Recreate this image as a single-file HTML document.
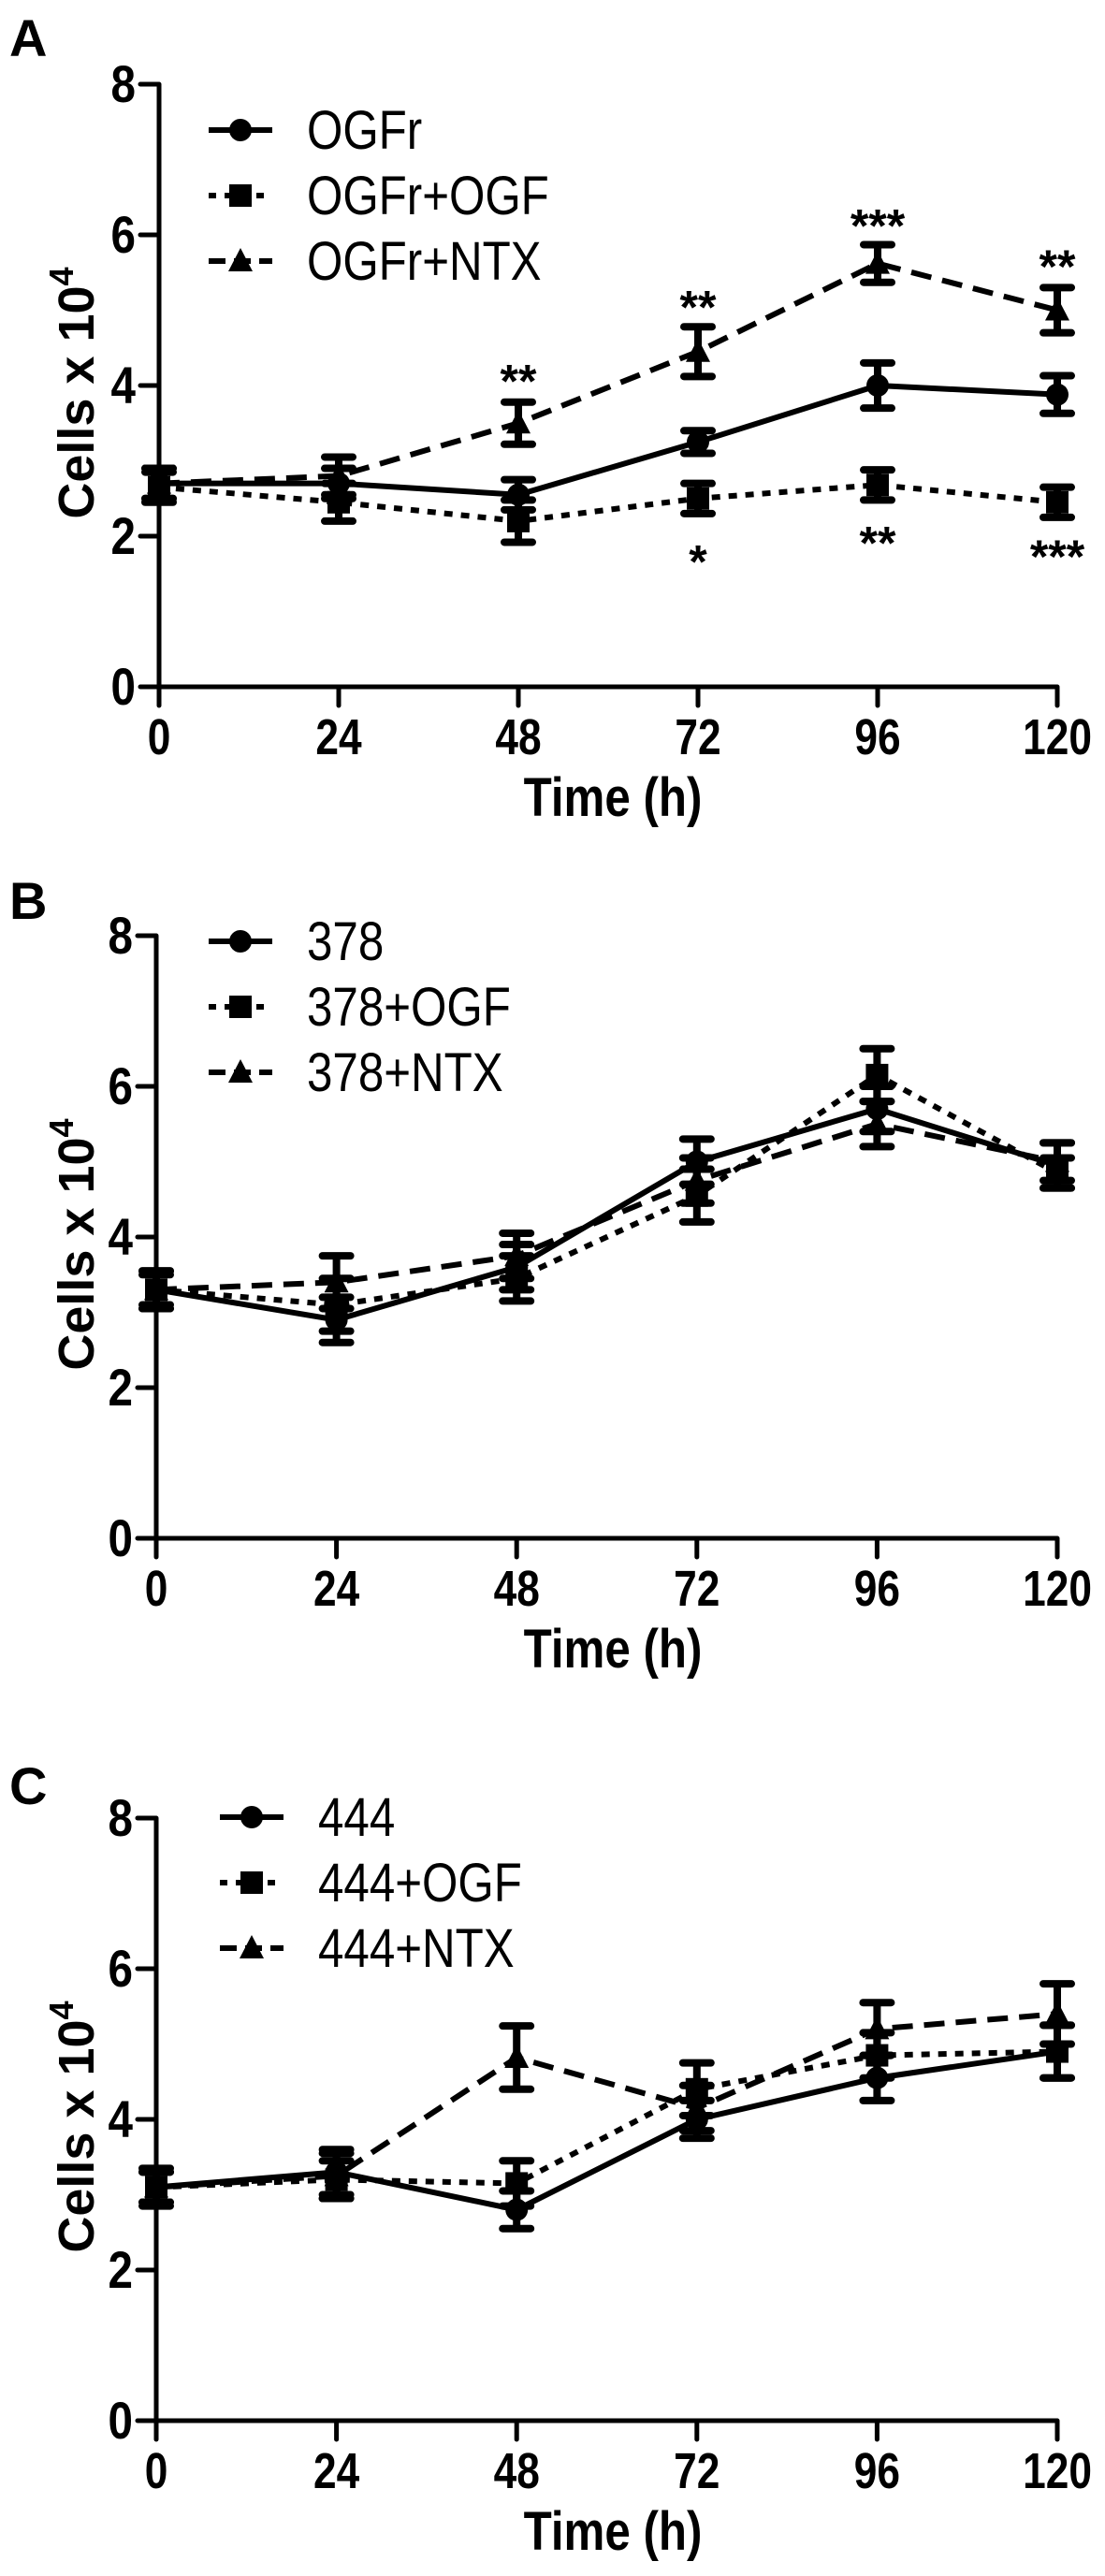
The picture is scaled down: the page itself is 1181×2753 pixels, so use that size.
<!DOCTYPE html>
<html><head><meta charset="utf-8"><title>Cell growth: OGFr, 378 and 444 cells</title>
<style>
html,body{margin:0;padding:0;background:#fff;}
svg{display:block;}
text{font-family:"Liberation Sans Narrow","Liberation Sans",Arial,sans-serif;fill:#000;}
</style></head>
<body>
<svg id="fig" width="1181" height="2753" viewBox="0 0 1181 2753" xmlns="http://www.w3.org/2000/svg"></svg>
<script>
// ---- data ----
const timeCategories = [0, 24, 48, 72, 96, 120];
const yTickLabels = [0, 2, 4, 6, 8];

// Panel A
const aNames = ["OGFr", "OGFr+OGF", "OGFr+NTX"];
const aCtrl = [2.7, 2.7, 2.55, 3.25, 4.0, 3.88];
const aCtrlErr = [0.2, 0.2, 0.2, 0.15, 0.3, 0.25];
const aOgf = [2.65, 2.45, 2.2, 2.5, 2.68, 2.45];
const aOgfErr = [0.2, 0.25, 0.28, 0.2, 0.2, 0.2];
const aNtx = [2.7, 2.8, 3.5, 4.45, 5.62, 5.0];
const aNtxErr = [0.2, 0.25, 0.28, 0.33, 0.25, 0.3];
const aStarTimes = [48, 72, 96, 120, 72, 96, 120];
const aStarValues = [4.12, 5.1, 6.18, 5.64, 1.72, 1.97, 1.79];
const aStarLabels = ["**", "**", "***", "**", "*", "**", "***"];

// Panel B
const bNames = ["378", "378+OGF", "378+NTX"];
const bCtrl = [3.3, 2.9, 3.6, 5.0, 5.7, 4.95];
const bCtrlErr = [0.25, 0.3, 0.3, 0.3, 0.3, 0.3];
const bOgf = [3.3, 3.1, 3.45, 4.55, 6.15, 4.85];
const bOgfErr = [0.25, 0.35, 0.3, 0.35, 0.35, 0.2];
const bNtx = [3.3, 3.4, 3.75, 4.75, 5.5, 5.0];
const bNtxErr = [0.2, 0.35, 0.3, 0.3, 0.3, 0.25];

// Panel C
const cNames = ["444", "444+OGF", "444+NTX"];
const cCtrl = [3.1, 3.3, 2.8, 4.0, 4.55, 4.9];
const cCtrlErr = [0.25, 0.3, 0.25, 0.25, 0.3, 0.35];
const cOgf = [3.1, 3.2, 3.15, 4.4, 4.85, 4.9];
const cOgfErr = [0.2, 0.25, 0.3, 0.35, 0.3, 0.35];
const cNtx = [3.1, 3.25, 4.82, 4.15, 5.2, 5.4];
const cNtxErr = [0.2, 0.3, 0.42, 0.3, 0.35, 0.4];

// ---- drawing ----
const NS = "http://www.w3.org/2000/svg";
const svg = document.getElementById("fig");
function mk(tag, attrs, parent) {
  const e = document.createElementNS(NS, tag);
  for (const k in attrs) e.setAttribute(k, attrs[k]);
  (parent || svg).appendChild(e);
  return e;
}
const dashes = ["none", "9 9", "22 12"];

function narrowText(parent, x, y, str, size, anchor, sx) {
  const t = mk("text", {x: 0, y: 0, "text-anchor": anchor, "font-size": size, "font-weight": "bold",
    transform: `translate(${x} ${y}) scale(${sx} 1)`}, parent);
  t.textContent = str;
  return t;
}

function drawPanel(cfg) {
  const g = mk("g", {});
  
  
  const x0 = cfg.x0, x1 = 1130, y0 = cfg.y0, unit = 80.5;
  const xs = t => x0 + (t - 0) / 120 * (x1 - x0);
  const ys = v => y0 - v * unit;

  const lab = mk("text", {x: 10, y: cfg.labelY, "font-size": 56, "font-weight": "bold", "font-family": "Liberation Sans, sans-serif"}, g);
  lab.textContent = cfg.letter;
  
  

  const ax = mk("path", {d: `M${x0} ${ys(8)} V${y0} H${x1}`, stroke: "#000", "stroke-width": 5, fill: "none"}, g);
  
  
  yTickLabels.forEach(v => {
    const tk = mk("line", {x1: x0 - 20, x2: x0, y1: ys(v), y2: ys(v), stroke: "#000", "stroke-width": 5, "stroke-linecap": "round"}, g);
    
    
    const t = narrowText(g, x0 - 25, ys(v) + 19, String(v), 56, "end", 0.85);
    
    
  });
  timeCategories.forEach(tm => {
    const tk = mk("line", {x1: xs(tm), x2: xs(tm), y1: y0, y2: y0 + 20, stroke: "#000", "stroke-width": 5, "stroke-linecap": "round"}, g);
    
    
    const t = narrowText(g, xs(tm), y0 + 72, String(tm), 54, "middle", 0.82);
    
    
  });
  const xt = narrowText(g, 655, y0 + 138, "Time (h)", 58, "middle", 0.85);
  
  
  const ytx = 100, yty = ys(3.9);
  const yt = mk("text", {x: ytx, y: yty, "text-anchor": "middle", "font-size": 54, "font-weight": "bold", "font-family": "Liberation Sans, sans-serif", transform: `rotate(-90 ${ytx} ${yty})`}, g);
  yt.innerHTML = 'Cells x 10<tspan dy="-22" font-size="36">4</tspan>';
  
  

  cfg.series.forEach((s, i) => {
    const sg = mk("g", {}, g);
    
    
    const pts = timeCategories.map((tm, k) => xs(tm) + "," + ys(s.vals[k])).join(" ");
    mk("polyline", {points: pts, fill: "none", stroke: "#000", "stroke-width": 6, "stroke-dasharray": dashes[i]}, sg);
    timeCategories.forEach((tm, k) => {
      const cx = xs(tm), cy = ys(s.vals[k]), e = s.err[k] * unit;
      mk("path", {d: `M${cx} ${cy - e} V${cy + e} M${cx - 15} ${cy - e} H${cx + 15} M${cx - 15} ${cy + e} H${cx + 15}`, stroke: "#000", "stroke-width": 8, "stroke-linecap": "round", fill: "none"}, sg);
      drawMarker(sg, i, cx, cy, 12);
    });
  });

  cfg.series.forEach((s, i) => {
    const ly = cfg.legendY + i * 70, lx = cfg.legendX;
    const lg = mk("g", {}, g);
    
    
    mk("line", {x1: lx, x2: lx + 68, y1: ly, y2: ly, stroke: "#000", "stroke-width": 6, "stroke-dasharray": i === 0 ? "none" : (i === 1 ? "8 9" : "18 9")}, lg);
    drawMarker(lg, i, lx + 34, ly, 12);
    const t = mk("text", {x: 0, y: 0, "font-size": 58, transform: `translate(${lx + 105} ${ly + 20}) scale(0.85 1)`}, lg);
    t.textContent = s.name;
  });

  if (cfg.stars) {
    cfg.stars.times.forEach((tm, k) => {
      const t = mk("text", {x: xs(tm), y: ys(cfg.stars.values[k]) + 22, "text-anchor": "middle", "font-size": 50, "font-weight": "bold", "font-family": "Liberation Sans, sans-serif"}, g);
      t.textContent = cfg.stars.labels[k];
      
      
    });
  }
}
function drawMarker(p, i, cx, cy, r) {
  if (i === 0) mk("circle", {cx: cx, cy: cy, r: r}, p);
  else if (i === 1) mk("rect", {x: cx - r, y: cy - r, width: 2 * r, height: 2 * r}, p);
  else mk("polygon", {points: `${cx},${cy - r - 2} ${cx + r + 1},${cy + r - 1} ${cx - r - 1},${cy + r - 1}`}, p);
}

drawPanel({letter: "A", x0: 170, y0: 734, labelY: 60, legendX: 223, legendY: 139,
  series: [{name: aNames[0], vals: aCtrl, err: aCtrlErr}, {name: aNames[1], vals: aOgf, err: aOgfErr}, {name: aNames[2], vals: aNtx, err: aNtxErr}],
  stars: {times: aStarTimes, values: aStarValues, labels: aStarLabels}});
drawPanel({letter: "B", x0: 167, y0: 1644, labelY: 982, legendX: 223, legendY: 1006,
  series: [{name: bNames[0], vals: bCtrl, err: bCtrlErr}, {name: bNames[1], vals: bOgf, err: bOgfErr}, {name: bNames[2], vals: bNtx, err: bNtxErr}]});
drawPanel({letter: "C", x0: 167, y0: 2587, labelY: 1928, legendX: 235, legendY: 1942,
  series: [{name: cNames[0], vals: cCtrl, err: cCtrlErr}, {name: cNames[1], vals: cOgf, err: cOgfErr}, {name: cNames[2], vals: cNtx, err: cNtxErr}]});
</script>
</body></html>
